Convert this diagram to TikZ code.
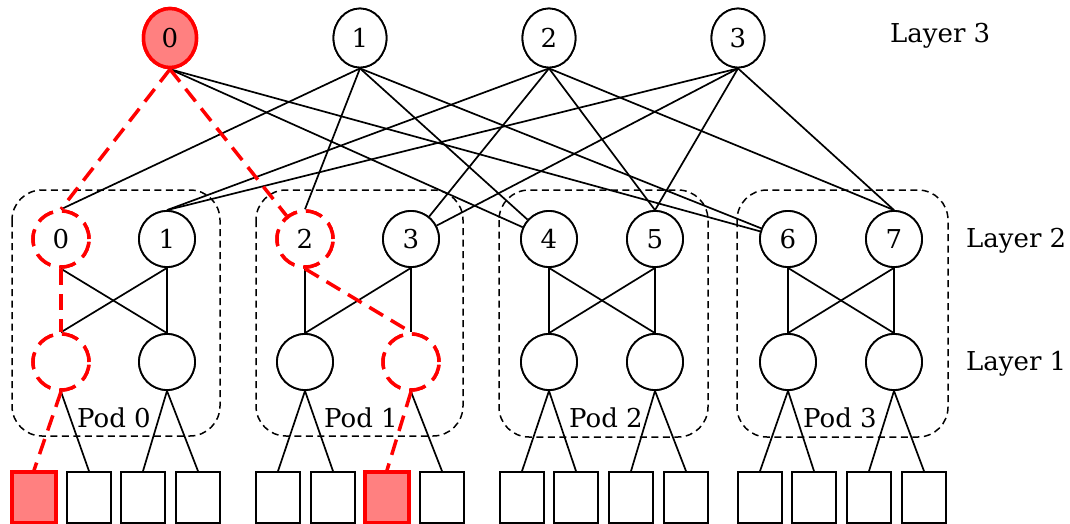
\documentclass[tikz,border=0pt]{standalone}
\usepackage{fontspec}
\setmainfont{DejaVu Serif}
\usetikzlibrary{shapes.geometric}
\definecolor{hotfill}{HTML}{FF8080}
\definecolor{hotline}{HTML}{FF0000}
\tikzset{
  core/.style={ellipse, draw, line width=1.8pt, fill=white, minimum width=53pt, minimum height=59pt, inner sep=0pt},
  hotcore/.style={core, draw=hotline, fill=hotfill, line width=3.5pt},
  sw/.style={circle, draw, line width=1.8pt, fill=white, minimum size=56pt, inner sep=0pt},
  hotsw/.style={sw, draw=hotline, line width=3.5pt, dash pattern=on 17pt off 9pt},
  host/.style={rectangle, draw, line width=1.8pt, fill=white, minimum width=44pt, minimum height=51pt, inner sep=0pt},
  hothost/.style={host, draw=hotline, fill=hotfill, line width=3.5pt},
  link/.style={line width=1.7pt},
  hotlink/.style={line width=3.5pt, draw=hotline, dash pattern=on 16pt off 9pt},
  podbox/.style={draw, line width=1.5pt, dash pattern=on 7pt off 4.5pt, rounded corners=30pt},
  lbl/.style={inner sep=0pt},
}
\begin{document}
\begin{tikzpicture}[x=1pt, y=-1pt, font=\fontsize{26}{30}\selectfont]
\useasboundingbox (0,0) rectangle (1070,524);

% pods
\draw[podbox] (12,190) rectangle (220,436);
\draw[podbox] (256,190) rectangle (463,436);
\draw[podbox] (499,190) rectangle (708,437);
\draw[podbox] (737,190) rectangle (948,437);

% core layer
\node[hotcore] (c0) at (170,38) {0};
\node[core] (c1) at (360,38) {1};
\node[core] (c2) at (549,38) {2};
\node[core] (c3) at (738,38) {3};

% aggregation layer
\node[hotsw] (a0) at (61,239) {0};
\node[sw] (a1) at (167,239) {1};
\node[hotsw] (a2) at (305,239) {2};
\node[sw] (a3) at (411,239) {3};
\node[sw] (a4) at (549,239) {4};
\node[sw] (a5) at (655,239) {5};
\node[sw] (a6) at (788,239) {6};
\node[sw] (a7) at (894,239) {7};

% edge layer
\node[hotsw] (e0) at (61,362) {};
\node[sw] (e1) at (167,362) {};
\node[sw] (e2) at (305,362) {};
\node[hotsw] (e3) at (411,362) {};
\node[sw] (e4) at (549,362) {};
\node[sw] (e5) at (655,362) {};
\node[sw] (e6) at (788,362) {};
\node[sw] (e7) at (894,362) {};

% hosts
\foreach \i/\x in {0/34,1/89,2/143,3/198,4/278,5/333,6/387,7/442,8/522,9/576,10/631,11/686,12/760,13/814,14/869,15/924}{
  \ifnum\i=0 \node[hothost] (h\i) at (\x,497.5) {};
  \else\ifnum\i=6 \node[hothost] (h\i) at (\x,497.5) {};
  \else \node[host] (h\i) at (\x,497.5) {};
  \fi\fi
}

% core to aggregation links
\draw[link] (c0.south) -- (a4);
\draw[link] (c0.south) -- (a6);
\draw[link] (c1.south) -- (a0.north);
\draw[link] (c1.south) -- (a2.north);
\draw[link] (c1.south) -- (a4);
\draw[link] (c1.south) -- (a6);
\draw[link] (c2.south) -- (a1.north);
\draw[link] (c2.south) -- (a3);
\draw[link] (c2.south) -- (a5.north);
\draw[link] (c2.south) -- (a7.north);
\draw[link] (c3.south) -- (a1.north);
\draw[link] (c3.south) -- (a3);
\draw[link] (c3.south) -- (a5.north);
\draw[link] (c3.south) -- (a7.north);

% aggregation to edge links
\draw[link] (a0.south) -- (e1.north);
\draw[link] (a1.south) -- (e0.north);
\draw[link] (a1.south) -- (e1.north);
\draw[link] (a2.south) -- (e2.north);
\draw[link] (a3.south) -- (e2.north);
\draw[link] (a3.south) -- (e3.north);
\foreach \p/\q in {4/5,6/7}{
  \draw[link] (a\p.south) -- (e\p.north);
  \draw[link] (a\p.south) -- (e\q.north);
  \draw[link] (a\q.south) -- (e\p.north);
  \draw[link] (a\q.south) -- (e\q.north);
}

% edge to host links
\draw[link] (e0.south) -- (h1.north);
\draw[link] (e1.south) -- (h2.north);
\draw[link] (e1.south) -- (h3.north);
\draw[link] (e2.south) -- (h4.north);
\draw[link] (e2.south) -- (h5.north);
\draw[link] (e3.south) -- (h7.north);
\draw[link] (e4.south) -- (h8.north);
\draw[link] (e4.south) -- (h9.north);
\draw[link] (e5.south) -- (h10.north);
\draw[link] (e5.south) -- (h11.north);
\draw[link] (e6.south) -- (h12.north);
\draw[link] (e6.south) -- (h13.north);
\draw[link] (e7.south) -- (h14.north);
\draw[link] (e7.south) -- (h15.north);

% highlighted path
\draw[hotlink] (c0.south) -- (a0.north);
\draw[hotlink] (c0.south) -- (a2);
\draw[hotlink] (a0.south) -- (e0.north);
\draw[hotlink] (a2.south) -- (e3.north);
\draw[hotlink] (e0.south) -- (h0.north);
\draw[hotlink] (e3.south) -- (h6.north);

% redraw nodes on top of the links
\node[hotcore] at (c0) {0};
\node[core] at (c1) {1};
\node[core] at (c2) {2};
\node[core] at (c3) {3};
\node[hotsw] at (a0) {0};
\node[sw] at (a1) {1};
\node[hotsw] at (a2) {2};
\node[sw] at (a3) {3};
\node[sw] at (a4) {4};
\node[sw] at (a5) {5};
\node[sw] at (a6) {6};
\node[sw] at (a7) {7};
\node[hotsw] at (e0) {};
\node[sw] at (e1) {};
\node[sw] at (e2) {};
\node[hotsw] at (e3) {};
\node[sw] at (e4) {};
\node[sw] at (e5) {};
\node[sw] at (e6) {};
\node[sw] at (e7) {};

% pod labels
\node[lbl, anchor=base] (p0) at (114,427) {Pod 0};
\node[lbl, anchor=base] (p1) at (361,427) {Pod 1};
\node[lbl, anchor=base] (p2) at (606,427) {Pod 2};
\node[lbl, anchor=base] (p3) at (840,427) {Pod 3};

% layer labels
\node[lbl, anchor=base west] (l3) at (890,43) {Layer 3};
\node[lbl, anchor=base west] (l2) at (966,247) {Layer 2};
\node[lbl, anchor=base west] (l1) at (966,370) {Layer 1};
\end{tikzpicture}
\end{document}
